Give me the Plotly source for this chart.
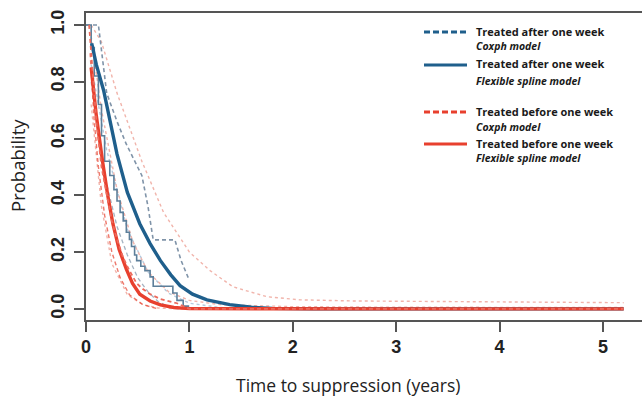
import plotly.graph_objects as go

# ---------------- data ----------------
# Flexible spline model, treated after one week (blue thick)
t_after_spline = [0.055, 0.10, 0.17, 0.23, 0.30, 0.40, 0.52, 0.62, 0.72, 0.82, 0.91, 1.03, 1.17, 1.39, 1.60, 1.80, 2.2, 3.0, 4.0, 5.2]
s_after_spline = [0.935, 0.86, 0.77, 0.66, 0.545, 0.41, 0.30, 0.23, 0.17, 0.12, 0.082, 0.052, 0.032, 0.015, 0.006, 0.002, 0.0, 0.0, 0.0, 0.0]
# spline confidence band (light dotted)
t_after_up = [0.05, 0.15, 0.30, 0.54, 0.75, 1.00, 1.20, 1.42, 1.75, 2.07, 2.6, 3.5, 4.5, 5.2]
s_after_up = [1.00, 0.94, 0.76, 0.52, 0.34, 0.20, 0.135, 0.078, 0.043, 0.032, 0.028, 0.025, 0.023, 0.022]
t_after_lo = [0.05, 0.20, 0.40, 0.60, 0.80, 1.00, 1.30, 1.60, 5.2]
s_after_lo = [0.86, 0.56, 0.28, 0.13, 0.055, 0.02, 0.005, 0.0, 0.0]

# Coxph model, treated after one week (thin step + dashed step limits)
t_after_cox = [0.0, 0.05, 0.08, 0.12, 0.15, 0.18, 0.23, 0.27, 0.30, 0.33, 0.36, 0.39, 0.42, 0.44, 0.47, 0.49, 0.53, 0.57, 0.62, 0.65, 0.84, 0.88, 0.94, 0.99, 1.05]
s_after_cox = [1.0, 0.92, 0.82, 0.72, 0.61, 0.52, 0.47, 0.42, 0.38, 0.34, 0.31, 0.27, 0.245, 0.22, 0.19, 0.17, 0.15, 0.135, 0.113, 0.08, 0.056, 0.03, 0.01, 0.0, 0.0]
t_after_cox_up = [0.0, 0.12, 0.20, 0.30, 0.39, 0.47, 0.54, 0.60, 0.65, 0.86, 0.92, 1.00]
s_after_cox_up = [1.0, 1.0, 0.76, 0.66, 0.58, 0.52, 0.47, 0.36, 0.243, 0.243, 0.17, 0.10]
t_after_cox_lo = [0.05, 0.12, 0.20, 0.30, 0.40, 0.50, 0.60, 0.70, 0.80, 0.90]
s_after_cox_lo = [0.80, 0.62, 0.44, 0.29, 0.19, 0.11, 0.06, 0.025, 0.008, 0.0]

# Flexible spline model, treated before one week (red thick)
t_before_spline = [0.05, 0.10, 0.16, 0.21, 0.26, 0.32, 0.39, 0.45, 0.52, 0.62, 0.72, 0.85, 1.00, 1.5, 2.0, 3.0, 4.0, 5.2]
s_before_spline = [0.85, 0.68, 0.52, 0.40, 0.30, 0.21, 0.14, 0.09, 0.052, 0.028, 0.014, 0.005, 0.001, 0.0, 0.0, 0.0, 0.0, 0.0]
t_before_up = [0.05, 0.15, 0.30, 0.45, 0.60, 0.80, 1.00, 1.30, 2.0, 3.0, 5.2]
s_before_up = [0.96, 0.70, 0.42, 0.24, 0.13, 0.06, 0.03, 0.015, 0.008, 0.006, 0.005]
t_before_lo = [0.05, 0.15, 0.25, 0.40, 0.55, 0.70, 1.00, 5.2]
s_before_lo = [0.72, 0.36, 0.16, 0.05, 0.015, 0.003, 0.0, 0.0]

# Coxph model, treated before one week (red dashed)
t_before_cox = [0.03, 0.06, 0.10, 0.15, 0.20, 0.25, 0.30, 0.36, 0.42, 0.49, 0.55, 0.62, 0.72, 0.88, 1.00, 5.2]
s_before_cox = [1.0, 0.84, 0.66, 0.50, 0.40, 0.31, 0.245, 0.18, 0.135, 0.09, 0.07, 0.052, 0.035, 0.02, 0.0, 0.0]
t_before_cox_lo = [0.04, 0.08, 0.12, 0.18, 0.25, 0.33, 0.42, 0.55, 0.70]
s_before_cox_lo = [0.90, 0.66, 0.50, 0.33, 0.20, 0.11, 0.05, 0.015, 0.0]

x_ticks = [0, 1, 2, 3, 4, 5]
y_ticks = [0.0, 0.2, 0.4, 0.6, 0.8, 1.0]
y_tick_text = ["0.0", "0.2", "0.4", "0.6", "0.8", "1.0"]

legend_main = ["Treated after one week", "Treated after one week",
               "Treated before one week", "Treated before one week"]
legend_sub = ["Coxph model", "Flexible spline model", "Coxph model", "Flexible spline model"]

# ---------------- style ----------------
BLUE = "#1f5f8c"
RED = "#e8402e"
STEP = "#5d7f9a"
CI_BLUE = "#7f93a8"
LIGHT_BLUE = "#b4c9dc"
LIGHT_RED = "#f1b4ab"
AX = "#555555"

W, H = 642, 396
ML, MR, MT, MB = 86, 0, 13, 76

fig = go.Figure()

def add(t, s, color, width, dash="solid", shape="linear", opacity=1.0):
    fig.add_trace(go.Scatter(x=t, y=s, mode="lines", showlegend=False, hoverinfo="skip",
                             opacity=opacity,
                             line=dict(color=color, width=width, dash=dash, shape=shape)))

# light dotted spline bands
add(t_after_up, s_after_up, LIGHT_RED, 1.4, "dot")
add(t_after_lo, s_after_lo, LIGHT_BLUE, 1.4, "dot")
add(t_before_up, s_before_up, LIGHT_RED, 1.4, "dot")
add(t_before_lo, s_before_lo, LIGHT_RED, 1.4, "dot")
# coxph after: dashed limits + thin step
add(t_after_cox_up, s_after_cox_up, CI_BLUE, 1.6, "4px,3px")
add(t_after_cox_lo, s_after_cox_lo, CI_BLUE, 1.3, "4px,3px", opacity=0.7)
add(t_after_cox, s_after_cox, STEP, 1.6, "solid", "hv")
# coxph before: red dashed
add(t_before_cox_lo, s_before_cox_lo, RED, 1.4, "4px,3px", opacity=0.7)
# thick spline curves
add(t_after_spline, s_after_spline, BLUE, 3.4)
add(t_before_spline, s_before_spline, RED, 3.4)
add(t_before_cox, s_before_cox, "#ec6a5c", 1.8, "4px,3px")

# ---------------- axes ----------------
pw = W - ML - MR
ph = H - MT - MB
x0_px_per_year = 103.4
TICKFONT = dict(family="Liberation Sans, Arial", size=18, color="#222222", weight="bold")
fig.update_xaxes(range=[0, pw / x0_px_per_year], tickvals=x_ticks, ticktext=[str(v) for v in x_ticks],
                 showgrid=False, zeroline=False, showline=True, linecolor=AX, linewidth=1.5,
                 mirror=True, ticks="outside", ticklen=10, tickwidth=1.5, tickcolor=AX,
                 tickfont=TICKFONT)
fig.update_yaxes(range=[-0.039, 1.042], tickvals=y_ticks, ticktext=y_tick_text, tickangle=-90,
                 showgrid=False, zeroline=False, showline=True, linecolor=AX, linewidth=1.5,
                 ticks="outside", ticklen=10, tickwidth=1.5, tickcolor=AX,
                 ticklabelstandoff=3,
                 tickfont=TICKFONT)

def px(x):
    return (x - ML) / pw

def py(y):
    return (H - MB - y) / ph

annotations = [
    dict(text="Time to suppression (years)", x=px(348), y=py(385), xref="paper", yref="paper",
         showarrow=False, xanchor="center", yanchor="middle",
         font=dict(family="Open Sans", size=17.5, color="#222222")),
    dict(text="Probability", x=px(17), y=py(166), xref="paper", yref="paper", textangle=-90,
         showarrow=False, xanchor="center", yanchor="middle",
         font=dict(family="Open Sans", size=18.5, color="#222222")),
]

shapes = []
legend_rows = [(31, 46), (64, 81), (111, 127), (143, 158)]
legend_colors = [BLUE, BLUE, RED, RED]
legend_dash = ["6px,3px", "solid", "6px,3px", "solid"]
for i in range(4):
    ym, ys = legend_rows[i]
    shapes.append(dict(type="line", xref="paper", yref="paper", x0=px(424), x1=px(467),
                       y0=py(ym + 1), y1=py(ym + 1),
                       line=dict(color=legend_colors[i], width=3, dash=legend_dash[i])))
    annotations.append(dict(text="<b>" + legend_main[i] + "</b>", x=px(474), y=py(ym),
                            xref="paper", yref="paper", showarrow=False, xanchor="left", yanchor="middle",
                            font=dict(family="Open Sans", size=11, color="#1a1a1a")))
    annotations.append(dict(text="<b><i>" + legend_sub[i] + "</i></b>", x=px(474), y=py(ys),
                            xref="paper", yref="paper", showarrow=False, xanchor="left", yanchor="middle",
                            font=dict(family="Open Sans", size=10.5, color="#1a1a1a")))

fig.update_layout(width=W, height=H, margin=dict(l=ML, r=MR, t=MT, b=MB, pad=0),
                  paper_bgcolor="white", plot_bgcolor="white", showlegend=False,
                  annotations=annotations, shapes=shapes)

fig.write_html("out.html")
